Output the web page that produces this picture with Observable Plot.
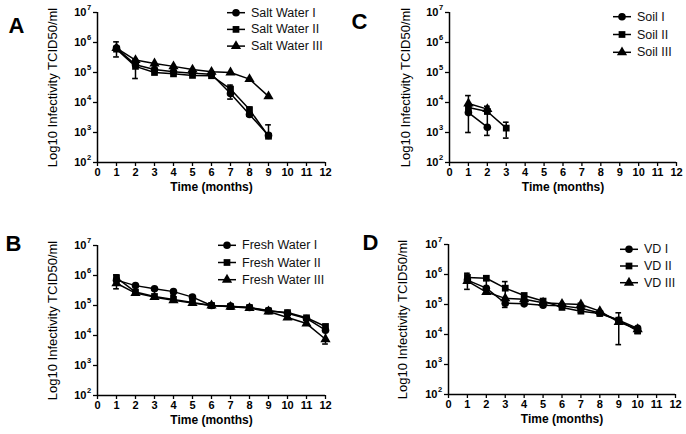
<!DOCTYPE html>
<html><head><meta charset="utf-8">
<script src="https://cdn.jsdelivr.net/npm/d3@7"></script>
<script src="https://cdn.jsdelivr.net/npm/@observablehq/plot@0.6"></script>
<style>
body{margin:0;background:#fff;font-family:"Liberation Sans",Arial,sans-serif;}
#root{position:relative;width:686px;height:434px;overflow:hidden;background:#fff;}
.panel{position:absolute;}
#overlay{position:absolute;left:0;top:0;pointer-events:none;}
</style></head><body><div id="root"></div>
<script>
// ---- tick labels / categories ----
const monthTicks = [0,1,2,3,4,5,6,7,8,9,10,11,12];
const yTicks = [1e2,1e3,1e4,1e5,1e6,1e7];
const yExponents = ["2","3","4","5","6","7"];
const seriesLevels = ["I","II","III"];
const symbolNames = ["circle","square","triangle"];

// ---- A: Salt Water ----
const saltMonths = [1,2,3,4,5,6,7,8,9];
const saltI   = [6.5e5, 1.8e5, 1.25e5, 1.05e5, 9.5e4, 8.8e4, 2.0e4, 4.0e3, 8.0e2];
const saltII  = [6.0e5, 1.6e5, 1.0e5, 9.0e4, 8.0e4, 7.8e4, 2.8e4, 5.8e3, 7.5e2];
const saltIII = [6.5e5, 2.6e5, 2.0e5, 1.6e5, 1.25e5, 1.05e5, 1.0e5, 6.0e4, 1.6e4];
const saltErrMonth = [1, 2, 7, 8, 9];
const saltErrLow   = [3.3e5, 6.3e4, 1.3e4, 3.5e3, 7.5e2];
const saltErrHigh  = [1.05e6, 2.8e5, 3.8e4, 7.0e3, 1.8e3];

// ---- B: Fresh Water ----
const freshMonths = [1,2,3,4,5,6,7,8,9,10,11,12];
const freshI   = [7.0e5, 4.6e5, 3.6e5, 2.9e5, 1.9e5, 1.0e5, 9.5e4, 8.6e4, 6.8e4, 5.5e4, 3.7e4, 1.5e4];
const freshII  = [8.5e5, 2.8e5, 2.0e5, 1.6e5, 1.25e5, 1.0e5, 9.2e4, 8.5e4, 6.6e4, 5.8e4, 3.9e4, 2.0e4];
const freshIII = [5.5e5, 2.6e5, 1.9e5, 1.5e5, 1.2e5, 1.0e5, 9.0e4, 8.2e4, 6.3e4, 4.0e4, 2.5e4, 7.5e3];
const freshErrMonth = [1, 4, 5, 11, 12];
const freshErrLow   = [3.6e5, 2.2e5, 1.3e5, 3.2e4, 5.2e3];
const freshErrHigh  = [1.05e6, 3.2e5, 2.2e5, 4.2e4, 2.3e4];

// ---- C: Soil ----
const soilMonths = [1,2,3];
const soilI   = [4.6e3, 1.5e3];
const soilII  = [6.8e3, 5.0e3, 1.4e3];
const soilIII = [9.3e3, 6.0e3];
const soilErrMonth = [1, 2, 3];
const soilErrLow   = [1.0e3, 8.0e2, 6.5e2];
const soilErrHigh  = [1.7e4, 7.5e3, 2.2e3];

// ---- D: VD ----
const vdMonths = [1,2,3,4,5,6,7,8,9,10];
const vdI   = [6.5e5, 3.5e5, 1.1e5, 1.05e5, 9.5e4, 9.0e4, 7.5e4, 5.2e4, 3.0e4, 1.6e4];
const vdII  = [8.0e5, 7.5e5, 3.5e5, 2.0e5, 1.3e5, 8.0e4, 6.0e4, 5.0e4, 3.0e4, 1.3e4];
const vdIII = [6.0e5, 2.6e5, 1.6e5, 1.5e5, 1.15e5, 1.05e5, 1.0e5, 6.0e4, 2.6e4, 1.5e4];
const vdErrMonth = [1, 2, 3, 7, 9, 10];
const vdErrLow   = [3.2e5, 2.5e5, 8.0e4, 5.5e4, 4.6e3, 1.1e4];
const vdErrHigh  = [1.1e6, 9.0e5, 5.8e5, 1.1e5, 5.3e4, 1.8e4];

// ---- text ----
const xTitle = "Time (months)";
const yTitle = "Log10 Infectivity TCID50/ml";

const panels = [
  {letter:"A", names:["Salt Water I","Salt Water II","Salt Water III"], months:saltMonths, series:[saltI,saltII,saltIII],
   err:[saltErrMonth,saltErrLow,saltErrHigh],
   left:0, top:0, mL:97, mR:18, mT:12, mB:55, yDx:-45,
   letterX:16.5, letterY:25, legX:227, legY:12.7, legDy:16.7},
  {letter:"C", names:["Soil I","Soil II","Soil III"], months:soilMonths, series:[soilI,soilII,soilIII],
   err:[soilErrMonth,soilErrLow,soilErrHigh],
   left:343, top:0, mL:106, mR:10, mT:12, mB:55, yDx:-44,
   letterX:359.5, letterY:21, legX:613, legY:16.7, legDy:17.8},
  {letter:"B", names:["Fresh Water I","Fresh Water II","Fresh Water III"], months:freshMonths, series:[freshI,freshII,freshIII],
   err:[freshErrMonth,freshErrLow,freshErrHigh],
   left:0, top:217, mL:97, mR:18, mT:28, mB:39, yDx:-45,
   letterX:13.5, letterY:243.5, legX:218, legY:245.3, legDy:17.2},
  {letter:"D", names:["VD I","VD II","VD III"], months:vdMonths, series:[vdI,vdII,vdIII],
   err:[vdErrMonth,vdErrLow,vdErrHigh],
   left:343, top:217, mL:105, mR:11, mT:27, mB:40, yDx:-46,
   letterX:370.5, letterY:242, legX:620, legY:249.3, legDy:16.7}
];

const root = document.getElementById("root");
const FONT = '"Liberation Sans", Arial, sans-serif';

for (const p of panels) {
  const rows = [];
  p.series.forEach((vals, k) => vals.forEach((v, i) => rows.push({month: p.months[i], value: v, level: seriesLevels[k]})));
  const err = p.err[0].map((m, i) => ({month: m, lo: p.err[1][i], hi: p.err[2][i]}));
  const capW = 0.15;
  const chart = Plot.plot({
    width: 343, height: 217,
    marginLeft: p.mL, marginRight: p.mR, marginTop: p.mT, marginBottom: p.mB,
    style: {fontFamily: FONT, background: "transparent", color: "black", overflow: "visible"},
    x: {domain: [0, 12]},
    y: {type: "log", domain: [1e2, 1e7]},
    symbol: {domain: seriesLevels, range: symbolNames},
    marks: [
      Plot.axisX({ticks: monthTicks, tickSize: 4, tickPadding: 2, fontSize: 11, fontWeight: "bold", tickFormat: d => String(d), label: null, strokeWidth: 1.3}),
      Plot.axisY({ticks: yTicks, tickSize: 4, tickFormat: () => "", label: null, strokeWidth: 1.3}),
      Plot.text(yTicks, {y: d => d, frameAnchor: "left", text: () => "10", dx: -11, textAnchor: "end", fontSize: 11, fontWeight: "bold"}),
      Plot.text(yTicks, {y: d => d, frameAnchor: "left", text: (d, i) => yExponents[i], dx: -10.5, dy: -4.5, textAnchor: "start", fontSize: 7.5, fontWeight: "bold"}),
      Plot.ruleX([0], {y1: 1e2, y2: 1e7, strokeWidth: 1.5}),
      Plot.ruleY([1e2], {x1: 0, x2: 12, strokeWidth: 1.5}),
      Plot.text([xTitle], {text: d => d, frameAnchor: "bottom", textAnchor: "middle", dy: 28, fontSize: 12, fontWeight: "bold"}),
      Plot.text([yTitle], {text: d => d, frameAnchor: "left", textAnchor: "middle", dx: p.yDx, rotate: -90, fontSize: 13}),
      Plot.ruleX(err, {x: "month", y1: "lo", y2: "hi", strokeWidth: 1.5}),
      Plot.ruleY(err, {y: "lo", x1: d => d.month - capW, x2: d => d.month + capW, strokeWidth: 1.6}),
      Plot.ruleY(err, {y: "hi", x1: d => d.month - capW, x2: d => d.month + capW, strokeWidth: 1.6}),
      Plot.line(rows, {x: "month", y: "value", z: "level", stroke: "black", strokeWidth: 1.5}),
      Plot.dot(rows, {x: "month", y: "value", symbol: "level", fill: "black", r: 3.8})
    ]
  });
  const wrap = document.createElement("div");
  wrap.className = "panel";
  wrap.style.left = p.left + "px";
  wrap.style.top = p.top + "px";
  wrap.appendChild(chart);
  root.appendChild(wrap);
}

// overlay: panel letters and legends
const ns = "http://www.w3.org/2000/svg";
const ov = document.createElementNS(ns, "svg");
ov.setAttribute("id", "overlay");
ov.setAttribute("width", 686);
ov.setAttribute("height", 434);
const symFns = [d3.symbolCircle, d3.symbolSquare, d3.symbolTriangle];
const symSize = Math.PI * 3.8 * 3.8;
for (const p of panels) {
  const t = document.createElementNS(ns, "text");
  t.setAttribute("x", p.letterX); t.setAttribute("y", p.letterY);
  t.setAttribute("text-anchor", "middle"); t.setAttribute("dominant-baseline", "central");
  t.setAttribute("font-family", FONT); t.setAttribute("font-size", 22); t.setAttribute("font-weight", "bold");
  t.textContent = p.letter;
  ov.appendChild(t);
  p.names.forEach((name, i) => {
    const cy = p.legY + i * p.legDy;
    const ln = document.createElementNS(ns, "line");
    ln.setAttribute("x1", p.legX); ln.setAttribute("x2", p.legX + 18);
    ln.setAttribute("y1", cy); ln.setAttribute("y2", cy);
    ln.setAttribute("stroke", "black"); ln.setAttribute("stroke-width", 1.5);
    ov.appendChild(ln);
    const sp = document.createElementNS(ns, "path");
    sp.setAttribute("d", d3.symbol(symFns[i], symSize)());
    sp.setAttribute("transform", `translate(${p.legX + 9},${cy})`);
    sp.setAttribute("fill", "black");
    ov.appendChild(sp);
    const tx = document.createElementNS(ns, "text");
    tx.setAttribute("x", p.legX + 24); tx.setAttribute("y", cy);
    tx.setAttribute("dominant-baseline", "central");
    tx.setAttribute("font-family", FONT); tx.setAttribute("font-size", 12.5); tx.setAttribute("fill", "#111");
    tx.textContent = name;
    ov.appendChild(tx);
  });
}
root.appendChild(ov);
</script></body></html>
